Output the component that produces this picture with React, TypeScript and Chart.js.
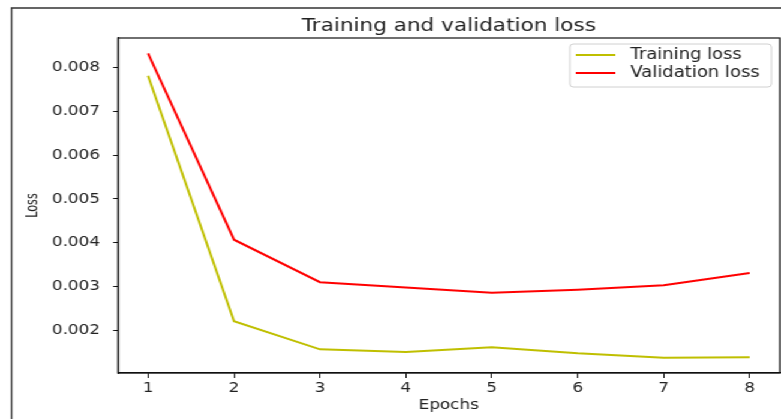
import React, { useEffect, useRef } from "react";
import { Chart, registerables } from "chart.js";

Chart.register(...registerables);

const epochs = [1, 2, 3, 4, 5, 6, 7, 8];
const trainingLoss = [0.00781, 0.00221, 0.00157, 0.00151, 0.00162, 0.00148, 0.00138, 0.00139];
const validationLoss = [0.00832, 0.00407, 0.0031, 0.00298, 0.00286, 0.00293, 0.00303, 0.00331];
const yTicks = [0.002, 0.003, 0.004, 0.005, 0.006, 0.007, 0.008];
const xTicks = [1, 2, 3, 4, 5, 6, 7, 8];
const titleText = "Training and validation loss";
const xLabel = "Epochs";
const yLabel = "Loss";

const FONT = "'DejaVu Sans', sans-serif";
const STRETCH = 1.2;
const W = Math.round(781 / STRETCH);
const H = 419;

const decorPlugin = {
  id: "decor",
  afterDraw(chart: any) {
    const ctx = chart.ctx as CanvasRenderingContext2D;
    const ca = chart.chartArea;
    ctx.save();
    // axes box (all four spines)
    ctx.strokeStyle = "#111";
    ctx.lineWidth = 1.2;
    ctx.strokeRect(ca.left, ca.top, ca.right - ca.left, ca.bottom - ca.top);
    // outer frame
    ctx.strokeStyle = "#333";
    ctx.lineWidth = 1.3;
    ctx.beginPath();
    ctx.moveTo(9.6, H);
    ctx.lineTo(9.6, 8);
    ctx.lineTo(W + 2, 8);
    ctx.stroke();
    // title
    ctx.fillStyle = "#222";
    ctx.font = `18px ${FONT}`;
    ctx.textAlign = "center";
    ctx.textBaseline = "alphabetic";
    ctx.fillText(titleText, (ca.left + ca.right) / 2, 31);
    // x label
    ctx.font = `14px ${FONT}`;
    ctx.fillText(xLabel, (ca.left + ca.right) / 2, 409);
    // y label
    ctx.save();
    ctx.translate(27.5, (ca.top + ca.bottom) / 2);
    ctx.rotate(-Math.PI / 2);
    ctx.scale(0.8, 1);
    ctx.textBaseline = "middle";
    ctx.font = `14px ${FONT}`;
    ctx.fillText(yLabel, 0, 0);
    ctx.restore();
    // legend
    const bx = 475, by = 44, bw = 168, bh = 43, r = 3;
    ctx.fillStyle = "rgba(255,255,255,0.8)";
    ctx.strokeStyle = "#d0d0d0";
    ctx.lineWidth = 1;
    ctx.beginPath();
    ctx.moveTo(bx + r, by);
    ctx.lineTo(bx + bw - r, by);
    ctx.quadraticCurveTo(bx + bw, by, bx + bw, by + r);
    ctx.lineTo(bx + bw, by + bh - r);
    ctx.quadraticCurveTo(bx + bw, by + bh, bx + bw - r, by + bh);
    ctx.lineTo(bx + r, by + bh);
    ctx.quadraticCurveTo(bx, by + bh, bx, by + bh - r);
    ctx.lineTo(bx, by + r);
    ctx.quadraticCurveTo(bx, by, bx + r, by);
    ctx.closePath();
    ctx.fill();
    ctx.stroke();
    ctx.font = `15px ${FONT}`;
    ctx.textAlign = "left";
    ctx.textBaseline = "middle";
    chart.data.datasets.forEach((ds: any, i: number) => {
      const yy = 55 + i * 18;
      ctx.strokeStyle = ds.borderColor;
      ctx.lineWidth = 2;
      ctx.beginPath();
      ctx.moveTo(480, yy);
      ctx.lineTo(513, yy);
      ctx.stroke();
      ctx.fillStyle = "#222";
      ctx.fillText(ds.label, 525.5, yy);
    });
    ctx.restore();
  },
};

export default function App() {
  const ref = useRef<HTMLCanvasElement>(null);
  useEffect(() => {
    document.body.style.margin = "0";
    const chart = new Chart(ref.current!, {
      type: "line",
      data: {
        datasets: [
          {
            label: "Training loss",
            data: epochs.map((e, i) => ({ x: e, y: trainingLoss[i] })),
            borderColor: "#bfbf00",
            borderWidth: 2,
            pointRadius: 0,
            tension: 0,
          },
          {
            label: "Validation loss",
            data: epochs.map((e, i) => ({ x: e, y: validationLoss[i] })),
            borderColor: "#ff0000",
            borderWidth: 2,
            pointRadius: 0,
            tension: 0,
          },
        ],
      },
      options: {
        animation: false,
        responsive: false,
        devicePixelRatio: 1,
        layout: { padding: { left: 0, top: 38, right: 1, bottom: 0 } },
        plugins: { legend: { display: false }, title: { display: false }, tooltip: { enabled: false } },
        scales: {
          x: {
            type: "linear",
            min: 0.65,
            max: 8.35,
            afterBuildTicks: (axis: any) => {
              axis.ticks = xTicks.map((v) => ({ value: v }));
            },
            afterFit: (axis: any) => {
              axis.height = 46;
            },
            grid: { display: true, drawOnChartArea: false, drawTicks: true, tickLength: 5, color: "#111", tickWidth: 1 },
            border: { display: true, color: "#111", width: 1.2 },
            ticks: {
              color: "#222",
              font: { family: FONT, size: 14 },
              padding: 2,
              maxRotation: 0,
              callback: (v: any) => String(v),
            },
          },
          y: {
            type: "linear",
            min: 0.00103,
            max: 0.00867,
            afterBuildTicks: (axis: any) => {
              axis.ticks = yTicks.map((v) => ({ value: v }));
            },
            afterFit: (axis: any) => {
              axis.width = 98.3;
            },
            grid: { display: true, drawOnChartArea: false, drawTicks: true, tickLength: 4, color: "#111", tickWidth: 1 },
            border: { display: true, color: "#111", width: 1.2 },
            ticks: {
              color: "#222",
              font: { family: FONT, size: 14 },
              padding: 11,
              callback: (v: any) => Number(v).toFixed(3),
            },
          },
        },
      },
      plugins: [decorPlugin],
    });
    return () => chart.destroy();
  }, []);
  return (
    <div
      style={{
        position: "fixed",
        left: 0,
        top: 0,
        width: W,
        height: H,
        background: "#fff",
        transform: `scaleX(${781 / W})`,
        transformOrigin: "0 0",
      }}
    >
      <canvas ref={ref} width={W} height={H} style={{ width: W, height: H, display: "block" }} />
    </div>
  );
}
